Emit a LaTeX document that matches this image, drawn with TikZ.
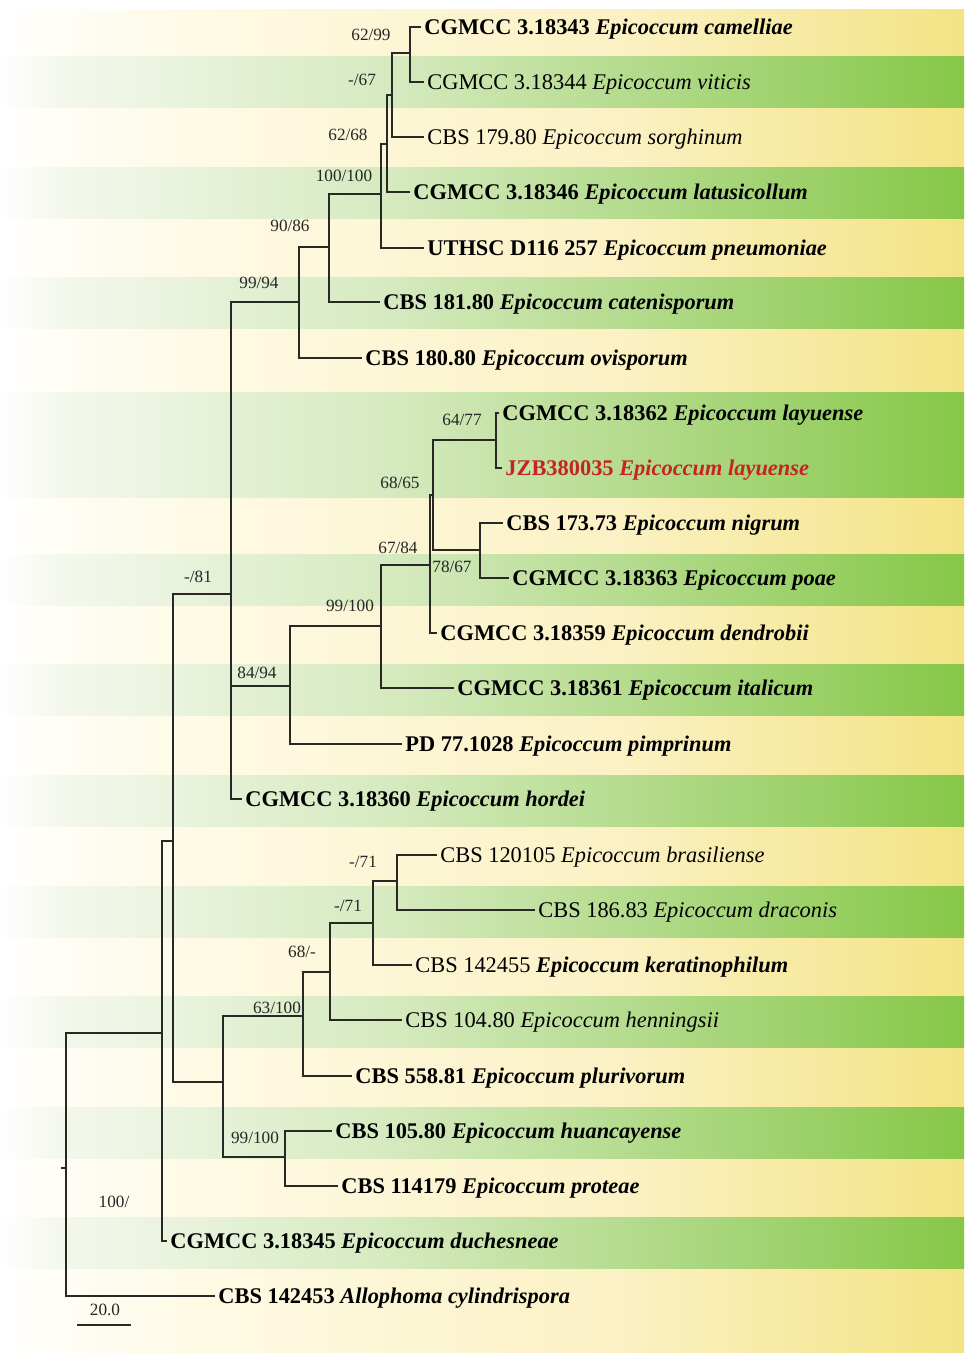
\documentclass[tikz,border=0pt]{standalone}
\usepackage{fontspec}
\setmainfont{Liberation Serif}

\definecolor{branch}{RGB}{40,40,36}
\definecolor{cream}{RGB}{254,250,229}
\definecolor{yelmid}{RGB}{251,241,196}
\definecolor{yelend}{RGB}{243,227,132}
\definecolor{grnpale}{RGB}{244,248,237}
\definecolor{grnmid}{RGB}{214,234,192}
\definecolor{grnend}{RGB}{134,199,72}
\definecolor{newstrain}{RGB}{196,36,34}

% background shadings, 25bp = left edge, 75bp = right edge
\pgfdeclarehorizontalshading{yelbands}{100bp}{color(0bp)=(white); color(25bp)=(white);
  color(27.5bp)=(white!70!cream); color(35bp)=(cream); color(57bp)=(yelmid); color(75bp)=(yelend); color(100bp)=(yelend)}
\pgfdeclarehorizontalshading{grnbands}{100bp}{color(0bp)=(white); color(25bp)=(white);
  color(28bp)=(grnpale); color(45bp)=(grnmid); color(75bp)=(grnend); color(100bp)=(grnend)}

\tikzset{
  tip/.style={anchor=west, inner xsep=1.5pt, inner ysep=0pt, text height=7.4pt, text depth=0pt,
    font=\fontsize{11.2}{13}\selectfont\bfseries},
  tipthin/.style={tip, font=\fontsize{11.2}{13}\selectfont},
  boot/.style={inner sep=0pt, text=black!85, font=\fontsize{8.6}{10}\selectfont},
  branchline/.style={draw=branch, line width=0.75pt},
}

\begin{document}
\begin{tikzpicture}[x=0.5pt,y=-0.5pt]
\useasboundingbox (0,0) rectangle (964,1353);
% stripes
\fill[white] (0,0) rectangle (964,1353);
\shade[shading=yelbands] (0,10) rectangle (964,1353);
\foreach \c in {82,193,303,579,689,800,911,1021,1132,1242}
  \shade[shading=grnbands] (0,\c-25) rectangle (964,\c+26);
\shade[shading=grnbands] (0,392) rectangle (964,497);

% tips
\node[tip] (t1) at (421,27) {CGMCC 3.18343 \textit{Epicoccum camelliae}};
\node[tipthin] (t2) at (424,82) {CGMCC 3.18344 \textit{Epicoccum viticis}};
\node[tipthin] (t3) at (424,137) {CBS 179.80 \textit{Epicoccum sorghinum}};
\node[tip] (t4) at (410,192) {CGMCC 3.18346 \textit{Epicoccum latusicollum}};
\node[tip] (t5) at (424,248) {UTHSC D116 257 \textit{Epicoccum pneumoniae}};
\node[tip] (t6) at (380,302) {CBS 181.80 \textit{Epicoccum catenisporum}};
\node[tip] (t7) at (362,358) {CBS 180.80 \textit{Epicoccum ovisporum}};
\node[tip] (t8) at (499,413) {CGMCC 3.18362 \textit{Epicoccum layuense}};
\node[tip, text=newstrain] (t9) at (502,468) {JZB380035 \textit{Epicoccum layuense}};
\node[tip] (t10) at (503,523) {CBS 173.73 \textit{Epicoccum nigrum}};
\node[tip] (t11) at (509,578) {CGMCC 3.18363 \textit{Epicoccum poae}};
\node[tip] (t12) at (437,633) {CGMCC 3.18359 \textit{Epicoccum dendrobii}};
\node[tip] (t13) at (454,688) {CGMCC 3.18361 \textit{Epicoccum italicum}};
\node[tip] (t14) at (402,744) {PD 77.1028 \textit{Epicoccum pimprinum}};
\node[tip] (t15) at (242,799) {CGMCC 3.18360 \textit{Epicoccum hordei}};
\node[tipthin] (t16) at (437,855) {CBS 120105 \textit{Epicoccum brasiliense}};
\node[tipthin] (t17) at (535,910) {CBS 186.83 \textit{Epicoccum draconis}};
\node[tipthin] (t18) at (412,965) {CBS 142455 \textbf{\textit{Epicoccum keratinophilum}}};
\node[tipthin] (t19) at (402,1020) {CBS 104.80 \textit{Epicoccum henningsii}};
\node[tip] (t20) at (352,1076) {CBS 558.81 \textit{Epicoccum plurivorum}};
\node[tip] (t21) at (332,1131) {CBS 105.80 \textit{Epicoccum huancayense}};
\node[tip] (t22) at (338,1186) {CBS 114179 \textit{Epicoccum proteae}};
\node[tip] (t23) at (167,1241) {CGMCC 3.18345 \textit{Epicoccum duchesneae}};
\node[tip] (t24) at (215,1296) {CBS 142453 \textit{Allophoma cylindrispora}};

% internal nodes
\coordinate (a1) at (410,53);
\coordinate (a2) at (392,95);
\coordinate (a3) at (387,144);
\coordinate (a4) at (381,194);
\coordinate (a5) at (329,247);
\coordinate (a6) at (299,302);
\coordinate (b1) at (496,440);
\coordinate (b2) at (480,550);
\coordinate (b3) at (433,495);
\coordinate (b4) at (430,565);
\coordinate (b5) at (381,626);
\coordinate (b6) at (290,686);
\coordinate (c1) at (231,594);
\coordinate (d1) at (397,881);
\coordinate (d2) at (373,923);
\coordinate (d3) at (330,972);
\coordinate (d4) at (303,1016);
\coordinate (d5) at (285,1157);
\coordinate (d6) at (223,1082);
\coordinate (e1) at (173,841);
\coordinate (e2) at (162,1033);
\coordinate (root) at (66,1168);
\coordinate (rtick) at (61,1168);

\foreach \p/\c in {a1/t1,a1/t2,a2/a1,a2/t3,a3/a2,a3/t4,a4/a3,a4/t5,a5/a4,a5/t6,a6/a5,a6/t7,
    b1/t8,b1/t9,b2/t10,b2/t11,b3/b1,b3/b2,b4/b3,b4/t12,b5/b4,b5/t13,b6/b5,b6/t14,
    c1/a6,c1/b6,c1/t15,d1/t16,d1/t17,d2/d1,d2/t18,d3/d2,d3/t19,d4/d3,d4/t20,
    d5/t21,d5/t22,d6/d4,d6/d5,e1/c1,e1/d6,e2/e1,e2/t23,root/e2,root/t24}
  \draw[branchline] (\p) |- (\c);
\draw[branchline] (root) -- (rtick);

% support values
\foreach \n/\x/\y/\v in {s1/371/35/62\slash 99, s2/362/80/-\slash 67, s3/348/135/62\slash 68,
    s4/344/176/100\slash 100, s5/290/226/90\slash 86, s6/259/283/99\slash 94,
    s7/462/420/64\slash 77, s8/400/483/68\slash 65, s9/398/548/67\slash 84,
    s10/452/567/78\slash 67, s11/350/606/99\slash 100, s12/257/673/84\slash 94,
    s13/198/577/-\slash 81, s14/363/862/-\slash 71, s15/348/906/-\slash 71,
    s16/302/952/68\slash -, s17/277/1008/63\slash 100, s18/255/1138/99\slash 100,
    s19/114/1202/100\slash}
  \node[boot] (\n) at (\x,\y) {\v};

% scale bar
\coordinate (sbl) at (77,1325);
\coordinate (sbr) at (131,1325);
\draw[branchline] (sbl) -- (sbr);
\node[boot] (sbtext) at (105,1310) {20.0};
\end{tikzpicture}
\end{document}
